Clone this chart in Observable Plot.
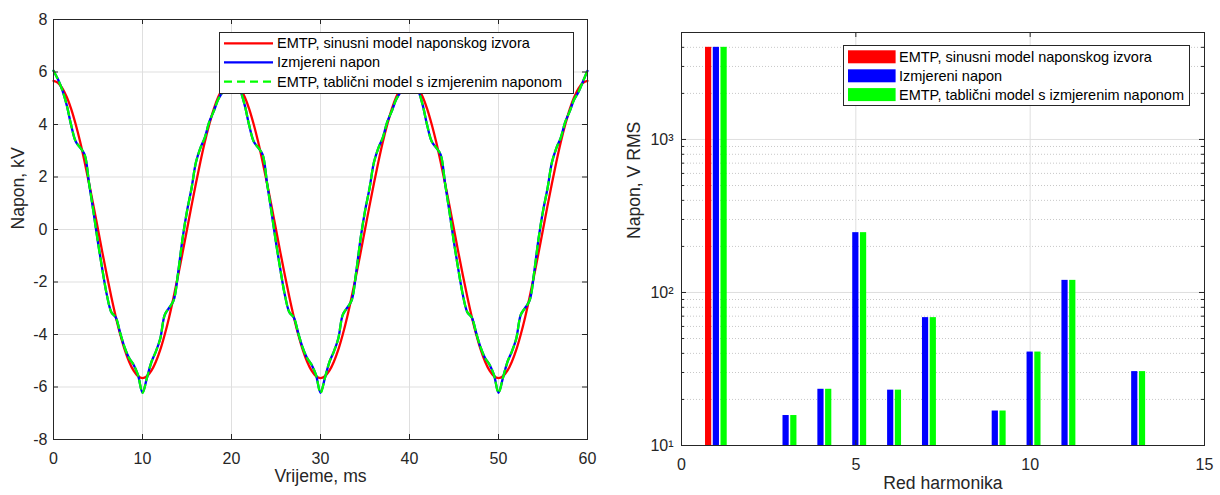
<!DOCTYPE html>
<html>
<head>
<meta charset="utf-8">
<script src="https://cdn.jsdelivr.net/npm/d3@7"></script>
<script src="https://cdn.jsdelivr.net/npm/@observablehq/plot@0.6"></script>
<style>
  body { margin: 0; background: #fff; }
  #wrap { position: relative; width: 1220px; height: 495px; overflow: hidden;
          font-family: "Liberation Sans", Arial, Helvetica, sans-serif; color: #262626; }
  .panel { position: absolute; top: 0; }
  .legend { position: absolute; background: #fff; border: 1px solid #262626; box-sizing: border-box; }
  .legend svg { display: block; }
</style>
</head>
<body>
<div id="wrap"></div>
<script>
// ---------------- DATA ----------------
// Left panel: time (ms) and voltage (kV)
const vrijeme = [0,0.5,1,1.5,2,2.5,3,3.5,4,4.5,5,5.5,6,6.5,7,7.5,8,8.5,9,9.5,
  10,10.5,11,11.5,12,12.5,13,13.5,14,14.5,15,15.5,16,16.5,17,17.5,18,18.5,19,19.5,
  20,20.5,21,21.5,22,22.5,23,23.5,24,24.5,25,25.5,26,26.5,27,27.5,28,28.5,29,29.5,
  30,30.5,31,31.5,32,32.5,33,33.5,34,34.5,35,35.5,36,36.5,37,37.5,38,38.5,39,39.5,
  40,40.5,41,41.5,42,42.5,43,43.5,44,44.5,45,45.5,46,46.5,47,47.5,48,48.5,49,49.5,
  50,50.5,51,51.5,52,52.5,53,53.5,54,54.5,55,55.5,56,56.5,57,57.5,58,58.5,59,59.5,60];

const sinusniNapon = [
  5.66,5.59,5.38,5.04,4.58,4.00,3.33,2.57,1.75,0.89,0.00,-0.89,-1.75,-2.57,-3.33,-4.00,-4.58,-5.04,-5.38,-5.59,
  -5.66,-5.59,-5.38,-5.04,-4.58,-4.00,-3.33,-2.57,-1.75,-0.89,0.00,0.89,1.75,2.57,3.33,4.00,4.58,5.04,5.38,5.59,
  5.66,5.59,5.38,5.04,4.58,4.00,3.33,2.57,1.75,0.89,0.00,-0.89,-1.75,-2.57,-3.33,-4.00,-4.58,-5.04,-5.38,-5.59,
  -5.66,-5.59,-5.38,-5.04,-4.58,-4.00,-3.33,-2.57,-1.75,-0.89,0.00,0.89,1.75,2.57,3.33,4.00,4.58,5.04,5.38,5.59,
  5.66,5.59,5.38,5.04,4.58,4.00,3.33,2.57,1.75,0.89,0.00,-0.89,-1.75,-2.57,-3.33,-4.00,-4.58,-5.04,-5.38,-5.59,
  -5.66,-5.59,-5.38,-5.04,-4.58,-4.00,-3.33,-2.57,-1.75,-0.89,0.00,0.89,1.75,2.57,3.33,4.00,4.58,5.04,5.38,5.59,
  5.66];

const izmjereniNapon = [
  6.05,5.72,5.30,4.72,3.95,3.35,3.12,2.85,1.75,0.65,-0.50,-1.55,-2.50,-3.15,-3.35,-3.95,-4.50,-4.90,-5.15,-5.55,
  -6.22,-5.65,-5.05,-4.65,-4.15,-3.25,-2.98,-2.70,-1.65,-0.35,0.70,1.55,2.55,3.10,3.50,4.10,4.50,4.95,5.25,5.65,
  6.05,5.72,5.30,4.72,3.95,3.35,3.12,2.85,1.75,0.65,-0.50,-1.55,-2.50,-3.15,-3.35,-3.95,-4.50,-4.90,-5.15,-5.55,
  -6.22,-5.65,-5.05,-4.65,-4.15,-3.25,-2.98,-2.70,-1.65,-0.35,0.70,1.55,2.55,3.10,3.50,4.10,4.50,4.95,5.25,5.65,
  6.05,5.72,5.30,4.72,3.95,3.35,3.12,2.85,1.75,0.65,-0.50,-1.55,-2.50,-3.15,-3.35,-3.95,-4.50,-4.90,-5.15,-5.55,
  -6.22,-5.65,-5.05,-4.65,-4.15,-3.25,-2.98,-2.70,-1.65,-0.35,0.70,1.55,2.55,3.10,3.50,4.10,4.50,4.95,5.25,5.65,
  6.05];

const tablicniNapon = [
  6.05,5.72,5.30,4.72,3.95,3.35,3.12,2.85,1.75,0.65,-0.50,-1.55,-2.50,-3.15,-3.35,-3.95,-4.50,-4.90,-5.15,-5.55,
  -6.22,-5.65,-5.05,-4.65,-4.15,-3.25,-2.98,-2.70,-1.65,-0.35,0.70,1.55,2.55,3.10,3.50,4.10,4.50,4.95,5.25,5.65,
  6.05,5.72,5.30,4.72,3.95,3.35,3.12,2.85,1.75,0.65,-0.50,-1.55,-2.50,-3.15,-3.35,-3.95,-4.50,-4.90,-5.15,-5.55,
  -6.22,-5.65,-5.05,-4.65,-4.15,-3.25,-2.98,-2.70,-1.65,-0.35,0.70,1.55,2.55,3.10,3.50,4.10,4.50,4.95,5.25,5.65,
  6.05,5.72,5.30,4.72,3.95,3.35,3.12,2.85,1.75,0.65,-0.50,-1.55,-2.50,-3.15,-3.35,-3.95,-4.50,-4.90,-5.15,-5.55,
  -6.22,-5.65,-5.05,-4.65,-4.15,-3.25,-2.98,-2.70,-1.65,-0.35,0.70,1.55,2.55,3.10,3.50,4.10,4.50,4.95,5.25,5.65,
  6.05];

// Right panel: harmonic order and RMS voltage (V)
const harmoniciSinusni = [1];
const sinusniRMS = [4000];
const harmoniciIzmjereni = [1, 3, 4, 5, 6, 7, 9, 10, 11, 13];
const izmjereniRMS = [4000, 15.7, 23.3, 246, 23.0, 68.5, 16.8, 40.8, 120, 30.4];
const tablicniRMS  = [4000, 15.7, 23.3, 246, 23.0, 68.5, 16.8, 40.8, 120, 30.4];

// Series names and tick values
const serije = ["EMTP, sinusni model naponskog izvora", "Izmjereni napon", "EMTP, tablični model s izmjerenim naponom"];
const xTicksL = [0, 10, 20, 30, 40, 50, 60];
const yTicksL = [-8, -6, -4, -2, 0, 2, 4, 6, 8];
const xTicksR = [0, 5, 10, 15];
const yTicksR = [10, 100, 1000];
const yMinorR = [20, 30, 40, 50, 60, 70, 80, 90, 200, 300, 400, 500, 600, 700, 800, 900, 2000, 3000, 4000];
const yTickLabelsR = ["10¹", "10²", "10³"];

// ---------------- STYLE ----------------
const boje = ["#ff0000", "#0000ff", "#00ff00"];
const axisColor = "#262626";
const gridColor = "#dfdfdf";
const font = "'Liberation Sans', Arial, Helvetica, sans-serif";
const lw = 2.3;

const wrap = document.getElementById("wrap");

// ---------- LEFT PANEL ----------
const L = {width: 620, height: 495, ml: 53, mr: 33, mt: 19, mb: 56};
const LW = L.width - L.ml - L.mr, LH = L.height - L.mt - L.mb;
const serL = (arr) => vrijeme.map((t, i) => ({t, v: arr[i]}));

const left = Plot.plot({
  width: L.width, height: L.height,
  marginLeft: L.ml, marginRight: L.mr, marginTop: L.mt, marginBottom: L.mb,
  style: {fontFamily: font, fontSize: "16px", color: axisColor, background: "transparent", overflow: "visible"},
  x: {domain: [0, 60]},
  y: {domain: [-8, 8]},
  marks: [
    Plot.gridX(xTicksL, {stroke: gridColor, strokeOpacity: 1}),
    Plot.gridY(yTicksL, {stroke: gridColor, strokeOpacity: 1}),
    Plot.line(serL(sinusniNapon), {x: "t", y: "v", stroke: boje[0], strokeWidth: lw, curve: "catmull-rom"}),
    Plot.line(serL(izmjereniNapon), {x: "t", y: "v", stroke: boje[1], strokeWidth: lw, curve: "catmull-rom"}),
    Plot.line(serL(tablicniNapon), {x: "t", y: "v", stroke: boje[2], strokeWidth: lw, strokeDasharray: "8,5", curve: "catmull-rom"}),
    Plot.frame({stroke: axisColor, strokeWidth: 1}),
    Plot.tickX(xTicksL, {x: d => d, insetTop: LH - 5, stroke: axisColor}),
    Plot.tickX(xTicksL, {x: d => d, insetBottom: LH - 5, stroke: axisColor}),
    Plot.tickY(yTicksL, {y: d => d, insetRight: LW - 5, stroke: axisColor}),
    Plot.tickY(yTicksL, {y: d => d, insetLeft: LW - 5, stroke: axisColor}),
    Plot.axisX(xTicksL, {tickSize: 0, tickPadding: 13, fontSize: 16, label: null, tickFormat: d => String(d)}),
    Plot.axisY(yTicksL, {tickSize: 0, tickPadding: 6, fontSize: 16, label: null, tickFormat: d => String(d)}),
    Plot.text(["Vrijeme, ms"], {text: d => d, frameAnchor: "bottom", dy: 42.7, fontSize: 17.6, fill: axisColor}),
    Plot.text(["Napon, kV"], {text: d => d, frameAnchor: "left", dx: -35.5, rotate: -90, fontSize: 17.6, fill: axisColor})
  ]
});
left.classList.add("panel");
left.style.left = "0px";
wrap.appendChild(left);

// ---------- RIGHT PANEL ----------
const R = {left: 620, width: 600, height: 495, ml: 61, mr: 16, mt: 32, mb: 50};
const RW = R.width - R.ml - R.mr, RH = R.height - R.mt - R.mb;
const groupOffset = [-0.222, 0, 0.222];
const barWidth = 0.178;
const barData = (hs, vs, s) => hs.map((h, i) => ({h, v: vs[i], s}));
const barMark = (rows, s) => Plot.rectY(rows, {
  x1: d => d.h + groupOffset[s] - barWidth / 2,
  x2: d => d.h + groupOffset[s] + barWidth / 2,
  y1: 10, y2: "v", fill: boje[s]
});

const right = Plot.plot({
  width: R.width, height: R.height,
  marginLeft: R.ml, marginRight: R.mr, marginTop: R.mt, marginBottom: R.mb,
  style: {fontFamily: font, fontSize: "16px", color: axisColor, background: "transparent", overflow: "visible"},
  x: {domain: [0, 15]},
  y: {type: "log", domain: [10, 5000]},
  marks: [
    Plot.ruleY(yMinorR, {y: d => d, stroke: "#c8c8c8", strokeDasharray: "1,2"}),
    Plot.gridX(xTicksR, {stroke: gridColor, strokeOpacity: 1}),
    Plot.gridY(yTicksR, {stroke: gridColor, strokeOpacity: 1}),
    barMark(barData(harmoniciSinusni, sinusniRMS, 0), 0),
    barMark(barData(harmoniciIzmjereni, izmjereniRMS, 1), 1),
    barMark(barData(harmoniciIzmjereni, tablicniRMS, 2), 2),
    Plot.frame({stroke: axisColor, strokeWidth: 1}),
    Plot.tickX(xTicksR, {x: d => d, insetTop: RH - 5, stroke: axisColor}),
    Plot.tickX(xTicksR, {x: d => d, insetBottom: RH - 5, stroke: axisColor}),
    Plot.tickY(yTicksR, {y: d => d, insetRight: RW - 5, stroke: axisColor}),
    Plot.tickY(yTicksR, {y: d => d, insetLeft: RW - 5, stroke: axisColor}),
    Plot.tickY(yMinorR, {y: d => d, insetRight: RW - 3, stroke: axisColor}),
    Plot.tickY(yMinorR, {y: d => d, insetLeft: RW - 3, stroke: axisColor}),
    Plot.axisX(xTicksR, {tickSize: 0, tickPadding: 13, fontSize: 16, label: null, tickFormat: d => String(d)}),
    Plot.axisY(yTicksR, {tickSize: 0, tickPadding: 8, fontSize: 16, label: null, tickFormat: d => yTickLabelsR[yTicksR.indexOf(d)]}),
    Plot.text(["Red harmonika"], {text: d => d, frameAnchor: "bottom", dy: 43.6, fontSize: 17.6, fill: axisColor}),
    Plot.text(["Napon, V RMS"], {text: d => d, frameAnchor: "left", dx: -46.7, rotate: -90, fontSize: 17.6, fill: axisColor})
  ]
});
right.classList.add("panel");
right.style.left = R.left + "px";
wrap.appendChild(right);

// ---------- LEGENDS ----------
function legend({x, y, w, h, rows, sample}) {
  const div = document.createElement("div");
  div.className = "legend";
  Object.assign(div.style, {left: x + "px", top: y + "px", width: w + "px", height: h + "px"});
  const svg = d3.create("svg").attr("width", w - 2).attr("height", h - 2)
    .style("font-family", font).style("font-size", "14.5px");
  serije.forEach((name, i) => {
    const cy = rows[i] - 1;
    sample(svg, i, cy);
    svg.append("text").attr("x", sample.textX - 1).attr("y", cy).attr("dy", "0.35em")
      .attr("fill", "#000").text(name);
  });
  div.appendChild(svg.node());
  wrap.appendChild(div);
}

const lineSample = (svg, i, cy) => {
  svg.append("line").attr("x1", 4).attr("x2", 53).attr("y1", cy).attr("y2", cy)
    .attr("stroke", boje[i]).attr("stroke-width", lw)
    .attr("stroke-dasharray", i === 2 ? "8,5" : null);
};
lineSample.textX = 58;
legend({x: 219, y: 32, w: 355, h: 62, rows: [11.3, 30.3, 49.7], sample: lineSample});

const barSample = (svg, i, cy) => {
  svg.append("rect").attr("x", 4).attr("y", cy - 6.5).attr("width", 47.6).attr("height", 13)
    .attr("fill", boje[i]);
};
barSample.textX = 56;
legend({x: 843, y: 45, w: 347, h: 61, rows: [11.8, 30.8, 49.6], sample: barSample});
</script>
</body>
</html>
